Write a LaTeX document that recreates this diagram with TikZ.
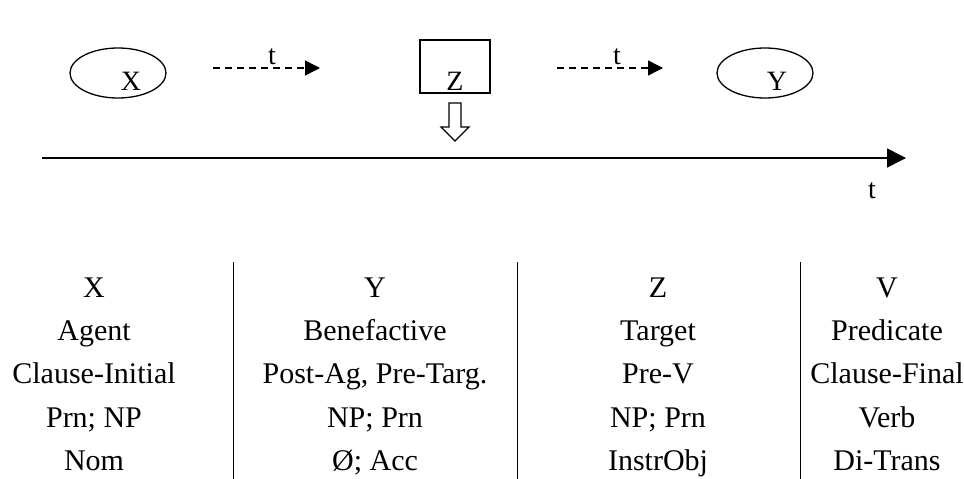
\documentclass[tikz,border=0pt]{standalone}
\usepackage{fontspec}
\setmainfont{Liberation Serif}
\usetikzlibrary{arrows.meta,shapes.geometric}
\begin{document}
\begin{tikzpicture}[x=1pt,y=-1pt,
  lab/.style={font=\fontsize{30}{34}\selectfont, inner sep=0pt, anchor=base},
  small/.style={font=\fontsize{28}{32}\selectfont, inner sep=0pt, anchor=base},
  dasharrow/.style={draw, line width=1.4pt, dash pattern=on 7pt off 5pt, -{Triangle[length=15pt,width=15pt]}},
  axis/.style={draw, line width=1.6pt, -{Triangle[length=19pt,width=19pt]}},
  divider/.style={draw, line width=0.8pt},
  oval/.style={draw, line width=1.3pt, ellipse, minimum width=96pt, minimum height=50pt}]
\useasboundingbox (0,0) rectangle (964,479);
% top row
\node[oval] (ex) at (118,73) {};
\node[small] (xl) at (131,90) {X};
\coordinate (a1s) at (213,68);
\coordinate (a1e) at (320,68);
\draw[dasharrow] (a1s) -- (a1e);
\node[small] (t1) at (272,64) {t};
\node[draw, line width=1.3pt, minimum width=70pt, minimum height=53pt, inner sep=0pt] (zb) at (455,66.5) {};
\node[small] (zl) at (455,90) {Z};
\coordinate (a2s) at (557,68);
\coordinate (a2e) at (663,68);
\draw[dasharrow] (a2s) -- (a2e);
\node[small] (t2) at (617,64) {t};
\node[oval] (ey) at (765,73) {};
\node[small] (yl) at (777,90) {Y};
% hollow down arrow
\draw[line width=1.2pt, line join=miter] (449,103) -- (461,103) -- (461,127) -- (469,127) -- (455,141) -- (441,127) -- (449,127) -- cycle;
% time axis
\coordinate (ts) at (42,158);
\coordinate (te) at (906,158);
\draw[axis] (ts) -- (te);
\node[small] (tl) at (872,198) {t};
% dividers
\coordinate (d1t) at (233,262); \coordinate (d1b) at (233,479);
\coordinate (d2t) at (517,262); \coordinate (d2b) at (517,479);
\coordinate (d3t) at (800,262); \coordinate (d3b) at (800,479);
\draw[divider] (d1t) -- (d1b);
\draw[divider] (d2t) -- (d2b);
\draw[divider] (d3t) -- (d3b);
% columns
\foreach \cx/\a/\b/\c/\d/\e [count=\i] in {94/X/Agent/Clause-Initial/Prn; NP/Nom,
  375/Y/Benefactive/{Post-Ag, Pre-Targ.}/NP; Prn/Ø; Acc,
  658/Z/Target/Pre-V/NP; Prn/InstrObj,
  887/V/Predicate/Clause-Final/Verb/Di-Trans}{
  \node[lab] (r1c\i) at (\cx,297) {\a};
  \node[lab] (r2c\i) at (\cx,340) {\b};
  \node[lab] (r3c\i) at (\cx,383) {\c};
  \node[lab] (r4c\i) at (\cx,427) {\d};
  \node[lab] (r5c\i) at (\cx,470) {\e};
}
\end{tikzpicture}
\end{document}
